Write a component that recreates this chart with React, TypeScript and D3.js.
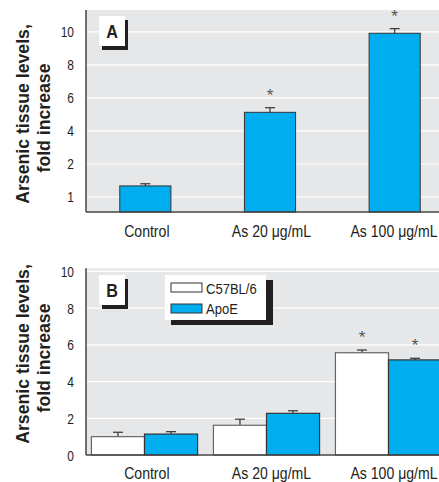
import React from "react";
import * as d3 from "d3";

const categories = ["Control", "As 20 μg/mL", "As 100 μg/mL"];

// panel A (single series, the tick labels are read as printed)
const aValues = [0.67, 5.13, 9.92];
const aErrors = [0.8, 5.41, 10.2];
const aStars = [false, true, true];
const aTicks = [0, 2, 4, 6, 8, 10];
const aTickLabels = ["1", "2", "4", "6", "8", "10"];

// panel B (two strains)
const strains = ["C57BL/6", "ApoE"];
const bC57 = [1.0, 1.62, 5.57];
const bC57Err = [1.24, 1.95, 5.72];
const bApoE = [1.14, 2.27, 5.18];
const bApoEErr = [1.27, 2.41, 5.27];
const bStars = [false, false, true];
const bTicks = [0, 2, 4, 6, 8, 10];

const W = 439;
const H = 482;
const BLUE = "#00aeef";
const BG = "#e6e7e8";
const INK = "#231f20";
const FONT = "'Liberation Sans', Arial, sans-serif";

// condensed-looking text: squeeze the glyphs horizontally
function CText({ x, y, size, sx = 0.88, anchor = "start", rotate = 0, bold = false, children }) {
  return (
    <text
      transform={`translate(${x},${y}) rotate(${rotate}) scale(${sx},1)`}
      textAnchor={anchor}
      fontFamily={FONT}
      fontSize={size}
      fontWeight={bold ? "bold" : "normal"}
      fill={INK}
    >
      {children}
    </text>
  );
}

function YTitle({ cy }) {
  return (
    <g>
      <CText x={29} y={cy} size={19} sx={0.93} anchor="middle" rotate={-90} bold>
        Arsenic tissue levels,
      </CText>
      <CText x={50} y={cy + 4} size={19} sx={0.93} anchor="middle" rotate={-90} bold>
        fold increase
      </CText>
    </g>
  );
}

function PanelLabel({ x, y, label }) {
  return (
    <g>
      <rect x={x + 3} y={y + 4} width={26} height={30} fill={INK} />
      <rect x={x} y={y} width={26} height={30} fill="#fff" />
      <CText x={x + 13} y={y + 22} size={18} sx={0.9} anchor="middle" bold>
        {label}
      </CText>
    </g>
  );
}

function ErrBar({ x, y0, y1 }) {
  return (
    <g stroke="#333" strokeWidth={1.2}>
      <line x1={x} x2={x} y1={y0} y2={y1} />
      <line x1={x - 5} x2={x + 5} y1={y1} y2={y1} />
    </g>
  );
}

function Star({ x, y }) {
  return (
    <text x={x} y={y + 1} textAnchor="middle" fontFamily={FONT} fontSize={17} fill="#555">
      *
    </text>
  );
}

export default function App() {
  const axisX = 86;

  // panel A
  const xA = d3.scaleBand().domain(categories).range([83, 457]).paddingInner(0.59).paddingOuter(0.295);
  const yA = d3.scaleLinear().domain([-0.91, 11.33]).range([212, 10]);

  // panel B
  const xB = d3.scaleBand().domain(categories).range([83.5, 449.5]).paddingInner(0.13).paddingOuter(0.065);
  const xS = d3.scaleBand().domain(strains).range([0, xB.bandwidth()]);
  const yB = d3.scaleLinear().domain([0, 10.17]).range([455, 268.3]);

  const bSeries = [
    { name: strains[0], vals: bC57, errs: bC57Err, fill: "#fff", stroke: "#666" },
    { name: strains[1], vals: bApoE, errs: bApoEErr, fill: BLUE, stroke: "#333" },
  ];

  const labelX = (c) => Math.min(xA(c) + xA.bandwidth() / 2 + 1.5, W - 45);

  return (
    <svg width={W} height={H} style={{ position: "absolute", left: 0, top: 0, background: "#fff" }}>
      {/* ---------- A ---------- */}
      <rect x={axisX} y={yA.range()[1]} width={W - axisX} height={yA.range()[0] - yA.range()[1]} fill={BG} />
      {aTicks.map((t) => (
        <line key={t} x1={axisX} x2={W} y1={yA(t)} y2={yA(t)} stroke="#fff" strokeWidth={1.2} />
      ))}
      {aTicks.map((t, i) => (
        <CText key={t} x={74} y={yA(t) + 5.5} size={15} sx={0.8} anchor="end">
          {aTickLabels[i]}
        </CText>
      ))}
      {categories.map((c, i) => {
        const x0 = xA(c);
        const cx = x0 + xA.bandwidth() / 2;
        return (
          <g key={c}>
            <ErrBar x={cx} y0={yA(aValues[i])} y1={yA(aErrors[i])} />
            <rect x={x0} y={yA(aValues[i])} width={xA.bandwidth()} height={yA.range()[0] - yA(aValues[i])} fill={BLUE} stroke="#333" strokeWidth={1} />
            {aStars[i] && <Star x={cx} y={yA(aErrors[i]) - 8} />}
          </g>
        );
      })}
      <line x1={axisX} x2={axisX} y1={yA.range()[1]} y2={yA.range()[0]} stroke="#444" strokeWidth={1.5} />
      <line x1={axisX} x2={W} y1={yA.range()[0]} y2={yA.range()[0]} stroke="#444" strokeWidth={1.5} />
      {categories.map((c) => (
        <CText key={c} x={labelX(c)} y={237} size={16} anchor="middle">
          {c}
        </CText>
      ))}
      <PanelLabel x={99} y={16} label="A" />
      <YTitle cy={114} />

      {/* ---------- B ---------- */}
      <rect x={axisX} y={yB.range()[1]} width={W - axisX} height={yB.range()[0] - yB.range()[1]} fill={BG} />
      {bTicks.map((t) => (
        <line key={t} x1={axisX} x2={W} y1={yB(t)} y2={yB(t)} stroke="#fff" strokeWidth={1.2} />
      ))}
      {bTicks.map((t) => (
        <CText key={t} x={74} y={yB(t) + 5.5} size={15} sx={0.8} anchor="end">
          {t}
        </CText>
      ))}
      {categories.map((c, i) => (
        <g key={c}>
          {bSeries.map((s) => {
            const x0 = xB(c) + xS(s.name);
            const cx = x0 + xS.bandwidth() / 2;
            return (
              <g key={s.name}>
                <ErrBar x={cx} y0={yB(s.vals[i])} y1={yB(s.errs[i])} />
                <rect x={x0} y={yB(s.vals[i])} width={xS.bandwidth()} height={yB(0) - yB(s.vals[i])} fill={s.fill} stroke={s.stroke} strokeWidth={1.2} />
                {bStars[i] && <Star x={cx} y={yB(s.errs[i]) - 8} />}
              </g>
            );
          })}
        </g>
      ))}
      <line x1={axisX} x2={axisX} y1={yB.range()[1]} y2={yB.range()[0]} stroke="#444" strokeWidth={1.5} />
      <line x1={axisX} x2={W} y1={yB.range()[0]} y2={yB.range()[0]} stroke="#444" strokeWidth={1.5} />
      {categories.map((c) => (
        <CText key={c} x={labelX(c)} y={479} size={16} anchor="middle">
          {c}
        </CText>
      ))}
      <PanelLabel x={99} y={275} label="B" />
      <YTitle cy={354} />

      {/* legend */}
      <rect x={171} y={280} width={102} height={45} fill={INK} />
      <rect x={165} y={275} width={101} height={45} fill="#fff" />
      {bSeries.map((s, i) => (
        <g key={s.name}>
          <rect x={171} y={283 + i * 21} width={31} height={9} fill={s.fill} stroke="#333" strokeWidth={1} />
          <CText x={206} y={293.5 + i * 20} size={14.5} sx={0.9}>
            {s.name}
          </CText>
        </g>
      ))}
    </svg>
  );
}
